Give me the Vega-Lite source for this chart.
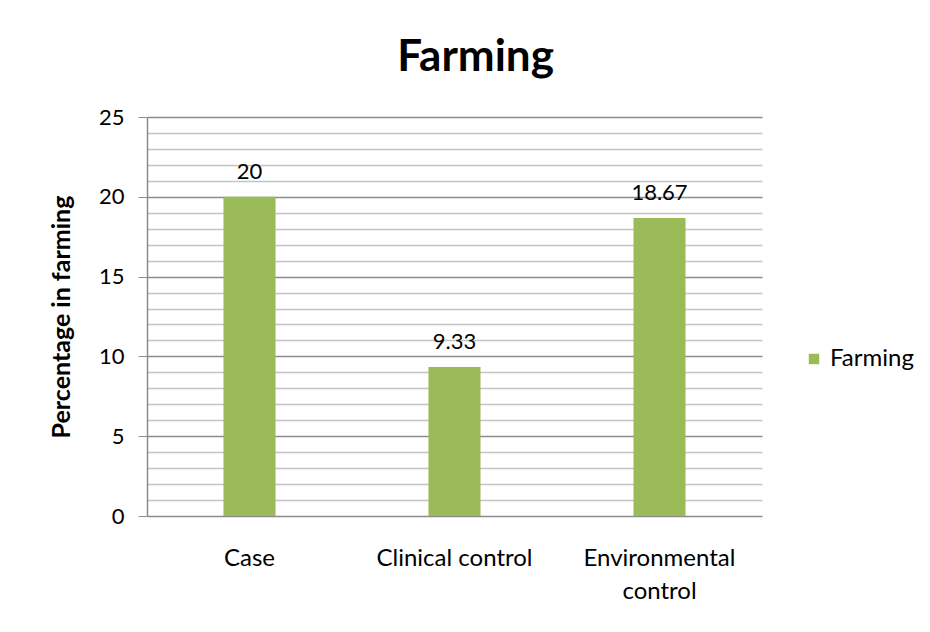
{
  "$schema": "https://vega.github.io/schema/vega-lite/v6.json",
  "width": 615,
  "height": 399,
  "autosize": {"type": "none"},
  "padding": {"left": 147, "top": 117, "right": 168, "bottom": 116},
  "background": "white",
  "title": {"text": "Farming", "fontSize": 44, "font": "Lato", "fontWeight": "bold", "color": "#000000", "anchor": "middle", "dx": 21, "offset": 26},
  "config": {"view": {"stroke": null}, "font": "Lato"},
  "data": {"values": [
    {"group": "Case", "value": 20, "label": "20", "series": "Farming"},
    {"group": "Clinical control", "value": 9.33, "label": "9.33", "series": "Farming"},
    {"group": "Environmental control", "value": 18.67, "label": "18.67", "series": "Farming"}
  ]},
  "encoding": {
    "x": {"field": "group", "type": "nominal", "sort": null,
      "scale": {"paddingInner": 0.746, "paddingOuter": 0.373},
      "axis": {"title": null, "labelAngle": 0, "labelFontSize": 24, "labelFont": "Lato", "labelColor": "#000000", "ticks": false, "domain": false, "labelPadding": 30, "labelLineHeight": 33,
        "labelExpr": "datum.label == 'Environmental control' ? ['Environmental', 'control'] : datum.label"}},
    "y": {"field": "value", "type": "quantitative",
      "scale": {"domain": [0, 25], "nice": false},
      "axis": {"title": "Percentage in farming", "titleFontSize": 25, "titleFont": "Lato", "titleFontWeight": "bold", "titleColor": "#000000", "titlePadding": 24,
        "values": [0,1,2,3,4,5,6,7,8,9,10,11,12,13,14,15,16,17,18,19,20,21,22,23,24,25],
        "labelExpr": "datum.value % 5 === 0 ? datum.label : ''",
        "labelFontSize": 22, "labelColor": "#000000", "labelPadding": 14, "tickSize": 9,
        "tickColor": {"condition": {"test": "datum.value % 5 === 0", "value": "#8c8c8c"}, "value": "transparent"},
        "gridColor": {"condition": {"test": "datum.value % 5 === 0", "value": "#8c8c8c"}, "value": "#c4c4c4"},
        "gridWidth": 1.5,
        "domainColor": "#8c8c8c", "domainWidth": 1.5}}
  },
  "layer": [
    {"mark": {"type": "bar"},
     "encoding": {"color": {"field": "series", "type": "nominal", "scale": {"range": ["#9BBB59"]},
        "legend": {"title": null, "orient": "none", "legendX": 655, "legendY": 230, "symbolType": "square", "symbolSize": 110, "labelFontSize": 24, "labelColor": "#000000", "labelFont": "Lato", "symbolStrokeWidth": 0}}}},
    {"mark": {"type": "text", "baseline": "bottom", "dy": -13, "fontSize": 22, "font": "Lato", "color": "#000000"},
     "encoding": {"text": {"field": "label"}}}
  ]
}
